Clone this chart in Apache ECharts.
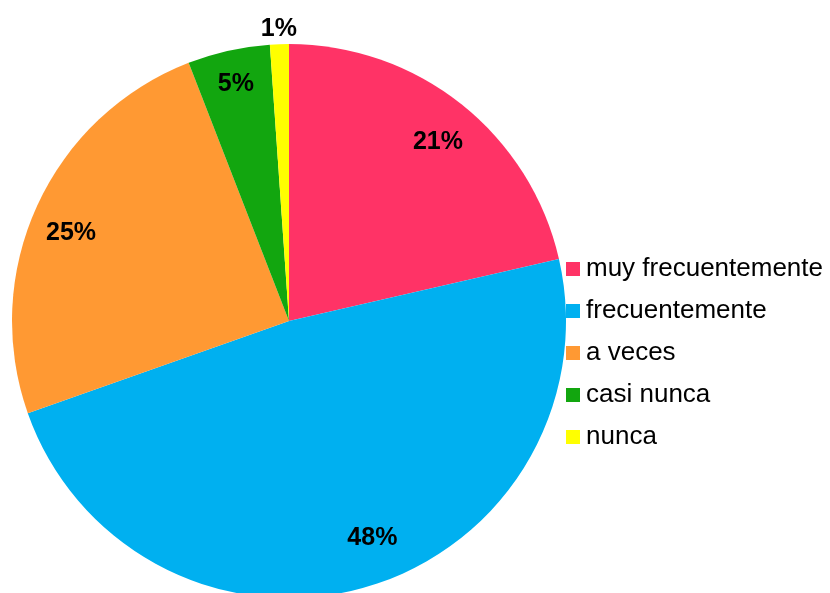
<!DOCTYPE html>
<html><head><meta charset="utf-8">
<script src="https://cdn.jsdelivr.net/npm/echarts@6/dist/echarts.min.js"></script>
<style>html,body{margin:0;padding:0;background:#fff}#c{width:830px;height:593px}</style>
</head><body><div id="c"></div>
<script>
const categories = ['muy frecuentemente', 'frecuentemente', 'a veces', 'casi nunca', 'nunca'];
const values = [21.4, 48.2, 24.5, 4.8, 1.1];
const colors = ['#FF3366', '#00B0F0', '#FF9933', '#12A60F', '#FFFF00'];
const outsideLabelCats = ['nunca'];
// fine label nudges (style only, pixels)
const labelNudge = { 'muy frecuentemente': [3, 4], 'frecuentemente': [18, -8], 'a veces': [-5, 10], 'casi nunca': [-2, -8], 'nunca': [0, 2] };

const cx = 289, cy = 321, R = 277;
const font = '"Liberation Sans", Arial, sans-serif';
const data = categories.map((n, i) => ({ name: n, value: values[i], itemStyle: { color: colors[i] } }));
const fmt = p => Math.round(p.percent) + '%';
const labelStyle = { color: '#000', fontSize: 25, fontWeight: 'bold', fontFamily: font, formatter: fmt };

const chart = echarts.init(document.getElementById('c'));
chart.setOption({
  animation: false,
  legend: {
    orient: 'vertical', left: 566, top: 256, padding: 0,
    data: categories, icon: 'rect', itemWidth: 14, itemHeight: 14, itemGap: 16,
    textStyle: { fontSize: 26, fontFamily: font, color: '#000', padding: [0, 0, 0, 1] }
  },
  series: [
    {
      type: 'pie', center: [cx, cy], radius: [0, R], startAngle: 90, clockwise: true,
      label: { show: false }, labelLine: { show: false }, silent: true,
      data: data
    },
    {
      type: 'pie', center: [cx, cy], radius: [R * 0.67, R], startAngle: 90, clockwise: true,
      silent: true, labelLine: { show: false },
      itemStyle: { color: 'rgba(0,0,0,0)' },
      label: Object.assign({ show: true, position: 'inside' }, labelStyle),
      data: categories.map((n, i) => ({ name: n, value: values[i], itemStyle: { color: 'rgba(0,0,0,0)' },
        label: { show: outsideLabelCats.indexOf(n) < 0, offset: labelNudge[n] } }))
    },
    {
      type: 'pie', center: [cx, cy], radius: [R, R + 28], startAngle: 90, clockwise: true,
      silent: true, labelLine: { show: false },
      itemStyle: { color: 'rgba(0,0,0,0)' },
      label: Object.assign({ show: true, position: 'inside' }, labelStyle),
      data: categories.map((n, i) => ({ name: n, value: values[i], itemStyle: { color: 'rgba(0,0,0,0)' },
        label: { show: outsideLabelCats.indexOf(n) >= 0, offset: labelNudge[n] } }))
    }
  ]
});
</script></body></html>
